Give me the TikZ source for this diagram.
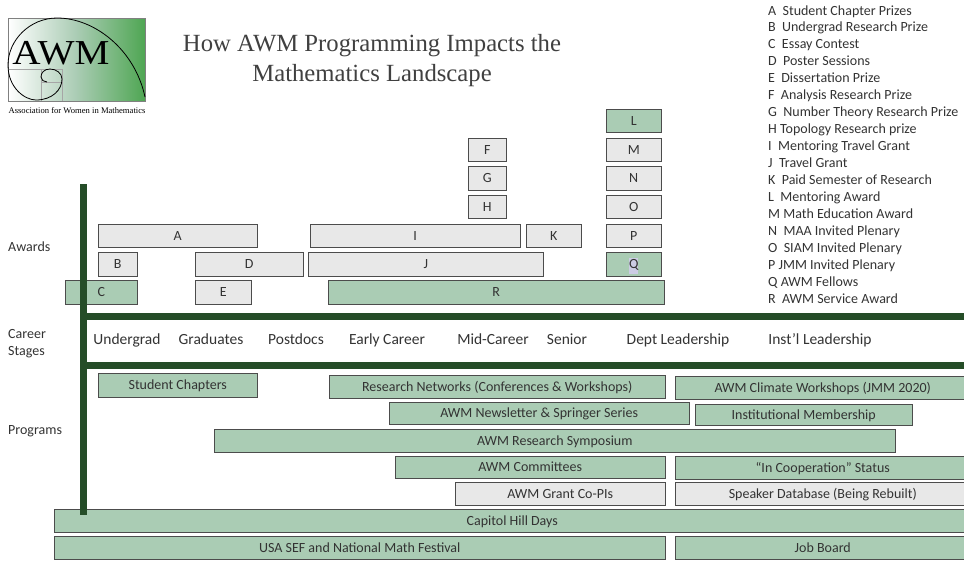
\documentclass[tikz,border=0pt]{standalone}
\usepackage{fontspec}
\setmainfont{Carlito}
\newfontfamily\serifcap{Liberation Serif}
\setlength{\fboxsep}{0pt}
\definecolor{boxgreen}{HTML}{AACCB4}
\definecolor{boxgrey}{HTML}{E8E8E8}
\definecolor{barcol}{HTML}{254D28}
\definecolor{inkcol}{HTML}{333333}
\definecolor{hilite}{HTML}{CCCCE4}
\definecolor{logogreen}{HTML}{4FA653}
\tikzset{
  awmbox/.style={draw=black!70,line width=.9pt,inner sep=0pt,text=inkcol,text height=9pt,text depth=0pt,
    font=\fontsize{14}{16}\selectfont},
  greenbox/.style={awmbox,fill=boxgreen},
  greybox/.style={awmbox,fill=boxgrey},
  bar/.style={barcol,line width=7pt},
  sidelabel/.style={anchor=west,inner sep=0pt,text=inkcol,font=\fontsize{14}{17}\selectfont,align=left},
  stagelabel/.style={inner sep=0pt,text=inkcol,font=\fontsize{15.5}{18}\selectfont},
  legendlabel/.style={anchor=west,inner sep=0pt,text=inkcol,text height=9pt,text depth=0pt,font=\fontsize{14}{16}\selectfont},
  titlelabel/.style={inner sep=0pt,text=black!75,font=\serifcap\fontsize{24.7}{30}\selectfont}
}
\begin{document}
\begin{tikzpicture}[x=1pt,y=-1pt]
\useasboundingbox (0,0) rectangle (964,562);

% logo
\shade[left color=white,right color=logogreen,middle color=boxgreen] (8,18) rectangle (145,101);
\draw[black!50,line width=.5pt] (8,18) rectangle (145,101);
\draw[black!35,line width=.5pt] (8,69)--(62,69)--(62,101) (41,69)--(41,101) (41,82)--(62,82);
\draw[black,line width=.8pt] (145,97) .. controls (135,50) and (95,18) .. (57,18)
  .. controls (30,18) and (8,40) .. (8,65) .. controls (8,88) and (25,100) .. (36,100)
  .. controls (52,100) and (62,90) .. (62,79) .. controls (62,73) and (56,69) .. (50,69)
  .. controls (44,69) and (41,73) .. (41,77) .. controls (41,80) and (44,82) .. (47,82);
\node (logoname) at (61,53) [inner sep=0pt,xscale=1.12,font=\serifcap\fontsize{35}{35}\selectfont] {AWM};
\node (logotext) at (77,111) [inner sep=0pt,font=\serifcap\fontsize{8.6}{10}\selectfont] {Association for Women in Mathematics};

\node (titleone) at (372,45.5) [titlelabel] {How AWM Programming Impacts the};
\node (titletwo) at (372,75.5) [titlelabel] {Mathematics Landscape};

% key
\foreach \legtext [count=\i from 0] in {A\ \ Student Chapter Prizes,B\ \ Undergrad Research Prize,C\ \ Essay Contest,
  D\ \ Poster Sessions,E\ \ Dissertation Prize,F\ \ Analysis Research Prize,G\ \ Number Theory Research Prize,
  H Topology Research prize,I\ \ Mentoring Travel Grant,J\ \ Travel Grant,K\ \ Paid Semester of Research,
  L\ \ Mentoring Award,M Math Education Award,N\ \ MAA Invited Plenary,O\ \ SIAM Invited Plenary,
  P\ JMM Invited Plenary,Q AWM Fellows,R\ \ AWM Service Award}
{
  \node (key\i) at (768,{10.5+16.95*\i}) [legendlabel] {\legtext};
}

% awards and programs
\foreach \xa/\ya/\xb/\yb/\boxname/\boxtext in {
  98/224/258/248/A/A,98/252/138/277/B/B,195/252/304/277/D/D,195/280/252/305/E/E,
  468/138/507/162/F/F,468/166/507/191/G/G,468/195/507/219/H/H,310/224/521/248/I/I,
  308/252/544/277/J/J,526/224/582/248/K/K,606/138/662/162/M/M,606/166/662/191/N/N,
  606/195/662/219/O/O,606/224/662/248/P/P,
  455/482/666/506/grant/AWM Grant Co-PIs,675/482/971/506/speaker/Speaker Database (Being Rebuilt)}
{
  \node (\boxname) at ({(\xa+\xb-.5)/2},{(\ya+\yb-.5)/2}) [greybox,minimum width={(\xb-\xa-.5)*1pt},minimum height={(\yb-\ya-.5)*1pt}] {\boxtext};
}
\foreach \xa/\ya/\xb/\yb/\boxname/\boxtext in {
  65/280/138/305/C/C,606/109/662/133/L/L,606/252/662/277/Q/\colorbox{hilite}{\strut Q},328/280/665/305/R/R,
  98/373/258/398/chapters/Student Chapters,329/375/666/399/networks/Research Networks (Conferences \& Workshops),
  389/402/690/425/newsletter/AWM Newsletter \& Springer Series,675/376/971/400/climate/AWM Climate Workshops (JMM 2020),
  695/404/913/426/member/Institutional Membership,214/429/896/453/symposium/AWM Research Symposium,
  395/456/666/479/committees/AWM Committees,675/456/971/480/cooperation/“In Cooperation” Status,
  54/509/971/533/capitol/Capitol Hill Days,54/536/666/560/festival/USA SEF and National Math Festival,
  675/536/971/560/jobs/Job Board}
{
  \node (\boxname) at ({(\xa+\xb-.5)/2},{(\ya+\yb-.5)/2}) [greenbox,minimum width={(\xb-\xa-.5)*1pt},minimum height={(\yb-\ya-.5)*1pt}] {\boxtext};
}

% frame bars
\coordinate (bartop) at (83.5,184);
\coordinate (barbot) at (83.5,515);
\coordinate (upperl) at (83.5,316.5);
\coordinate (upperr) at (964,316.5);
\coordinate (lowerl) at (83.5,365.5);
\coordinate (lowerr) at (964,365.5);
\draw[bar] (bartop)--(barbot);
\draw[bar] (upperl)--(upperr);
\draw[bar] (lowerl)--(lowerr);

% row labels
\node (awards) at (8,246.5) [sidelabel] {Awards};
\node (career) at (8,343.5) [sidelabel] {Career\\Stages};
\node (programs) at (8,431.5) [sidelabel] {Programs};

\foreach \x/\stagename/\stagetext in {127/under/Undergrad,211/grad/Graduates,296/postdoc/Postdocs,387/early/Early Career,
  493/mid/Mid-Career,567/senior/Senior,678/dept/Dept Leadership,820/inst/Inst’l Leadership}
{
  \node (\stagename) at (\x,340) [stagelabel,text height=11pt,text depth=3pt] {\stagetext};
}
\end{tikzpicture}
\end{document}
